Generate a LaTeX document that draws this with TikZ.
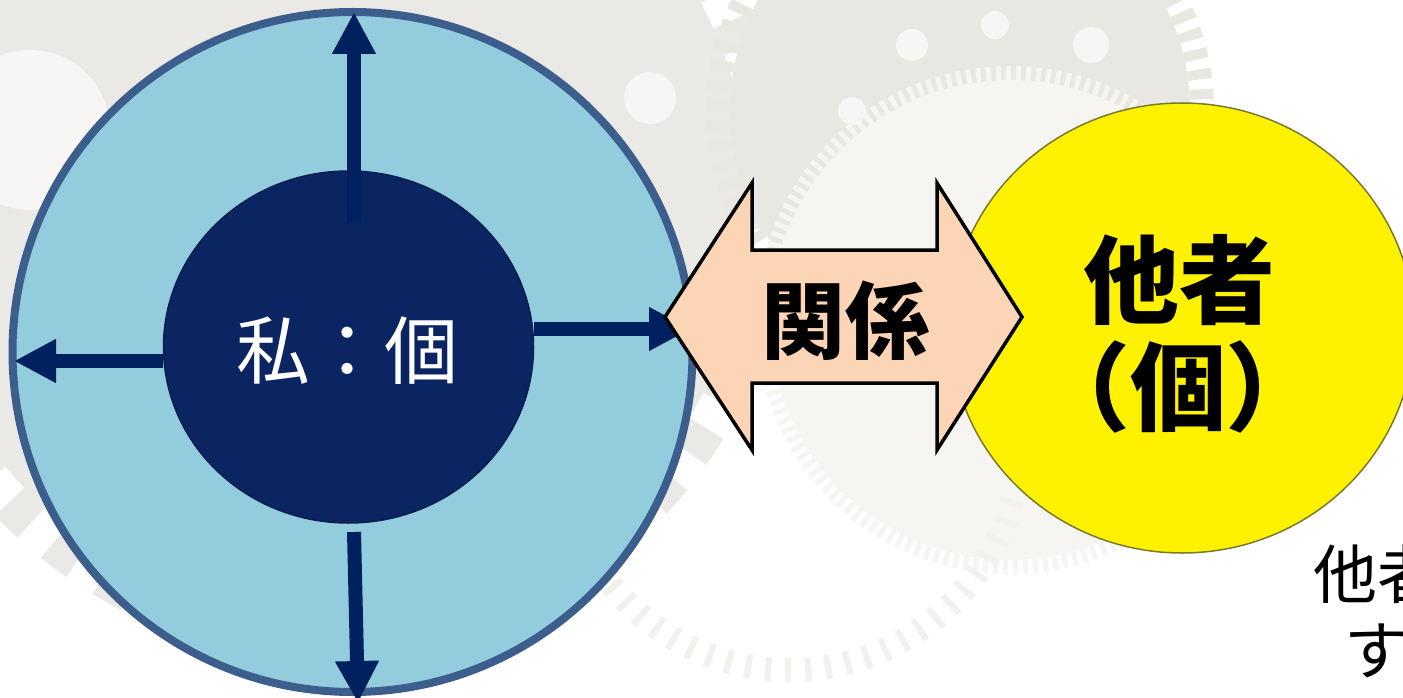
\documentclass[tikz,border=0pt]{standalone}
\usepackage{fontspec}
\usetikzlibrary{arrows.meta,shapes.geometric}
\newfontfamily\jp{Noto Sans CJK JP}
\newfontfamily\jpp{Noto Sans CJK JP}[RawFeature=+palt]
\definecolor{lblue}{HTML}{93CDDD}
\definecolor{bborder}{HTML}{3B5E8C}
\definecolor{innerc}{HTML}{0B2563}
\definecolor{navy}{HTML}{002060}
\definecolor{peach}{HTML}{FBD5B5}
\definecolor{yedge}{HTML}{7A7A2E}
\definecolor{gA}{HTML}{EBE9E5}
\definecolor{gB}{HTML}{E9E7E2}
\definecolor{gC}{HTML}{F6F5F2}
\definecolor{gD}{HTML}{F2F1EE}
\definecolor{gH}{HTML}{F7F6F4}
\tikzset{
  navyarrow/.style={draw=navy, line width=14pt, -{Triangle[width=41pt,length=42pt]}},
  relarrow/.style={draw=black, fill=peach, line width=3.5pt, miter limit=10},
}
\begin{document}
\begin{tikzpicture}[x=1pt,y=-1pt]
\useasboundingbox (0,0) rectangle (1403,698);
\clip (0,0) rectangle (1403,698);
\fill[white] (0,0) rectangle (1403,698);
% background gears
\fill[gA] (330,200) circle (420);
\draw[gA, line width=40pt, dash pattern=on 30pt off 30pt] (330,200) circle (440);
\fill[gH] (30,130) circle (80);
\fill[gB] (960,110) circle (230);
\draw[gB, line width=24pt, dash pattern=on 10pt off 10pt] (960,110) circle (242);
\fill[gC] (1010,320) circle (240);
\draw[gC, line width=14pt, dash pattern=on 5pt off 5pt] (1010,320) circle (247);
\foreach \p/\r in {{(912,45)}/16,{(995,25)}/14,{(1091,45)}/18,{(852,111)}/14,{(650,98)}/26}
  \fill[gH] \p circle (\r);
\draw[gD, line width=24pt, dash pattern=on 6pt off 14pt] (790,440) ++(15:230) arc[start angle=15, end angle=150, radius=230];
% self circle
\node[circle, draw=bborder, fill=lblue, line width=8pt, minimum size=680pt, inner sep=0pt] (outer) at (352.5,352) {};
\node[ellipse, draw=innerc!80!black, fill=innerc, line width=1.5pt, minimum width=370pt, minimum height=352pt, inner sep=0pt] (inner) at (348.5,347) {};
\coordinate (upS) at (354,223);   \coordinate (upE) at (354,12);
\coordinate (lfS) at (163,361);   \coordinate (lfE) at (14,361);
\coordinate (rtS) at (534,329);   \coordinate (rtE) at (691,329);
\coordinate (dnS) at (354,532);   \coordinate (dnE) at (358,703);
\draw[navyarrow] (upS) -- (upE);
\draw[navyarrow] (lfS) -- (lfE);
\draw[navyarrow] (rtS) -- (rtE);
\draw[navyarrow] (dnS) -- (dnE);
\node[anchor=base, text=white, inner sep=0pt, font=\jp\fontsize{74}{80}\selectfont] (me) at (347.5,378) {私：個};
% other
\node[ellipse, draw=yedge, fill=yellow, line width=1.5pt, minimum width=464pt, minimum height=450pt, inner sep=0pt] (other) at (1182,328) {};
% relation double arrow
\draw[relarrow] (665,317) -- (752,183) -- (752,250) -- (937,250) -- (937,183) -- (1022,317)
  -- (937,450) -- (937,383) -- (752,383) -- (752,450) -- cycle;
\node[anchor=base, inner sep=0pt, font=\jp\bfseries\fontsize{84}{90}\selectfont] (rel) at (845,352) {関係};
\node[anchor=base, inner sep=0pt, font=\jp\bfseries\fontsize{96}{100}\selectfont] (otherA) at (1179,316) {他者};
\node[anchor=base, inner sep=0pt, font=\jpp\bfseries\fontsize{96}{100}\selectfont] (otherB) at (1178,423) {（\kern4pt 個\kern4pt ）};
\node[anchor=base west, inner sep=0pt, font=\jp\fontsize{64}{70}\selectfont] (noteA) at (1313,598) {他者};
\node[anchor=base west, inner sep=0pt, font=\jp\fontsize{64}{70}\selectfont] (noteB) at (1344,674) {す};
\end{tikzpicture}
\end{document}
